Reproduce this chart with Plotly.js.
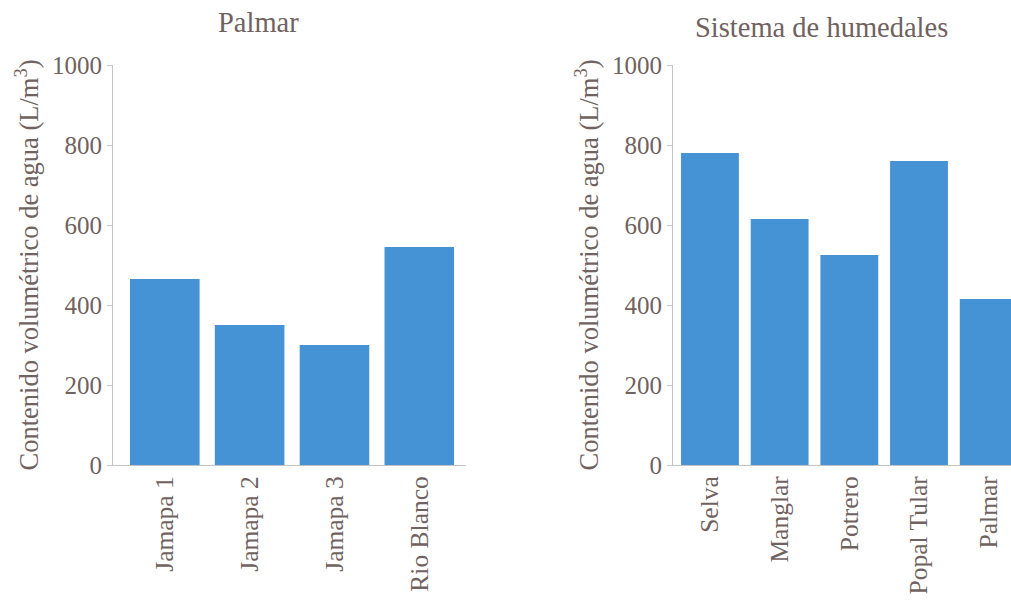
<!DOCTYPE html>
<html>
<head>
<meta charset="utf-8">
<script src="https://cdn.plot.ly/plotly-3.0.1.min.js"></script>
<style>html,body{margin:0;padding:0;background:#fff;overflow:hidden;}</style>
</head>
<body>
<div id="chart" style="width:1011px;height:601px;"></div>
<script>
// Palmar panel
var palmarSites = ["Jamapa 1", "Jamapa 2", "Jamapa 3", "Rio Blanco"];
var palmarValues = [465, 350, 300, 545];
// Sistema de humedales panel
var wetlandSystems = ["Selva", "Manglar", "Potrero", "Popal Tular", "Palmar"];
var wetlandValues = [780, 615, 525, 760, 415];

var titleLeft = "Palmar";
var titleRight = "Sistema de humedales";
var yTitle = "Contenido volumétrico de agua (L/m<sup>3</sup>)";
var yTicks = [0, 200, 400, 600, 800, 1000];

var textColor = "#6f625f";
var axisColor = "#c4c4c4";
var barColor = "#4592d4";
var fontFam = "Liberation Serif, Times New Roman, Times, DejaVu Serif, serif";

var traces = [
  {type: "bar", x: palmarSites, y: palmarValues, xaxis: "x", yaxis: "y",
   marker: {color: barColor}, width: 0.82, hoverinfo: "x+y"},
  {type: "bar", x: wetlandSystems, y: wetlandValues, xaxis: "x2", yaxis: "y2",
   marker: {color: barColor}, width: 0.83, hoverinfo: "x+y"}
];

function yAxis(anchor) {
  return {
    anchor: anchor, domain: [0, 1], range: [0, 1000],
    tickvals: yTicks, ticks: "outside", ticklen: 5, tickcolor: axisColor,
    showline: true, linecolor: axisColor, linewidth: 1,
    showgrid: false, zeroline: false,
    tickfont: {family: fontFam, size: 25, color: textColor},
    title: {text: yTitle, font: {family: fontFam, size: 26.5, color: textColor}, standoff: 5}
  };
}
function xAxis(anchor, dom, rng) {
  return {
    anchor: anchor, domain: dom, range: rng, type: "category",
    showline: true, linecolor: axisColor, linewidth: 1,
    showgrid: false, zeroline: false, ticks: "", tickangle: -90,
    tickfont: {family: fontFam, size: 25.5, color: textColor}
  };
}

var layout = {
  width: 1011, height: 601,
  margin: {l: 0, r: 0, t: 65, b: 136},
  paper_bgcolor: "#ffffff", plot_bgcolor: "#ffffff",
  showlegend: false,
  font: {family: fontFam, color: textColor},
  xaxis: xAxis("y", [0.1118, 0.4609], [-0.61, 3.55]),
  yaxis: yAxis("x"),
  xaxis2: xAxis("y2", [0.6657, 1], [-0.53, 4.32]),
  yaxis2: yAxis("x2"),
  annotations: [
    {text: titleLeft, xref: "paper", yref: "paper", x: 258/1011, y: 1.1075,
     xanchor: "center", yanchor: "middle", showarrow: false,
     font: {family: fontFam, size: 28.5, color: textColor}},
    {text: titleRight, xref: "paper", yref: "paper", x: 821/1011, y: 1.0925,
     xanchor: "center", yanchor: "middle", showarrow: false,
     font: {family: fontFam, size: 28.5, color: textColor}}
  ]
};

Plotly.newPlot("chart", traces, layout, {displayModeBar: false, staticPlot: true});
</script>
</body>
</html>
